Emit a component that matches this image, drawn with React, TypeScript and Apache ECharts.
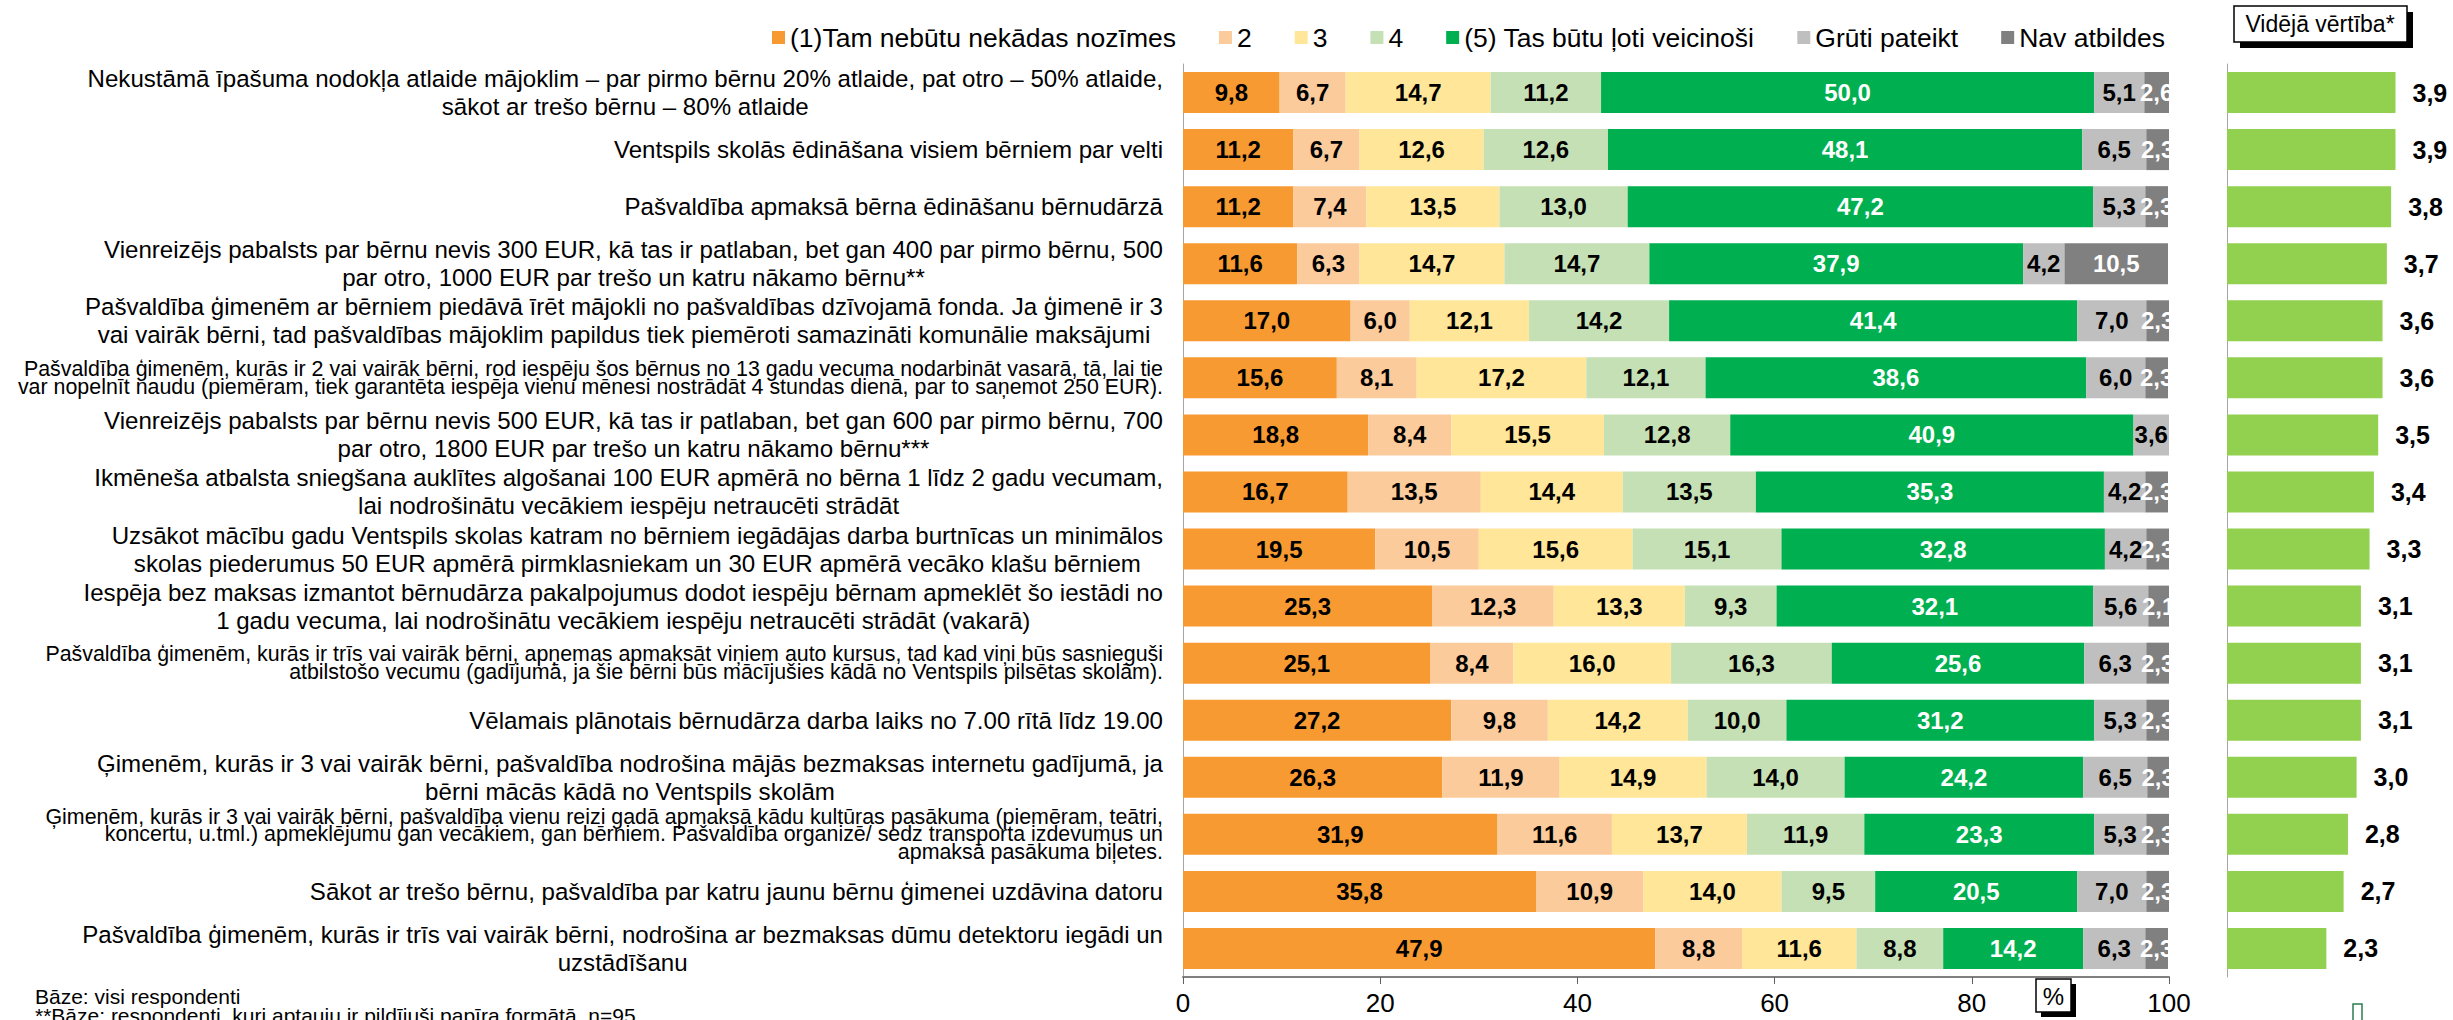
import React, { useEffect, useRef } from "react";
import * as echarts from "echarts";

const FONT = "'Liberation Sans', Arial, sans-serif";

const categories: string[] = [
  "Nekustāmā īpašuma nodokļa atlaide mājoklim – par pirmo bērnu 20% atlaide, pat otro – 50% atlaide,\nsākot ar trešo bērnu – 80% atlaide",
  "Ventspils skolās ēdināšana visiem bērniem par velti",
  "Pašvaldība apmaksā bērna ēdināšanu bērnudārzā",
  "Vienreizējs pabalsts par bērnu nevis 300 EUR, kā tas ir patlaban, bet gan 400 par pirmo bērnu, 500\npar otro, 1000 EUR par trešo un katru nākamo bērnu**",
  "Pašvaldība ģimenēm ar bērniem piedāvā īrēt mājokli no pašvaldības dzīvojamā fonda. Ja ģimenē ir 3\nvai vairāk bērni, tad pašvaldības mājoklim papildus tiek piemēroti samazināti komunālie maksājumi",
  "Pašvaldība ģimenēm, kurās ir 2 vai vairāk bērni, rod iespēju šos bērnus no 13 gadu vecuma nodarbināt vasarā, tā, lai tie\nvar nopelnīt naudu (piemēram, tiek garantēta iespēja vienu mēnesi nostrādāt 4 stundas dienā, par to saņemot 250 EUR).",
  "Vienreizējs pabalsts par bērnu nevis 500 EUR, kā tas ir patlaban, bet gan 600 par pirmo bērnu, 700\npar otro, 1800 EUR par trešo un katru nākamo bērnu***",
  "Ikmēneša atbalsta sniegšana auklītes algošanai 100 EUR apmērā no bērna 1 līdz 2 gadu vecumam,\nlai nodrošinātu vecākiem iespēju netraucēti strādāt",
  "Uzsākot mācību gadu Ventspils skolas katram no bērniem iegādājas darba burtnīcas un minimālos\nskolas piederumus 50 EUR apmērā pirmklasniekam un 30 EUR apmērā vecāko klašu bērniem",
  "Iespēja bez maksas izmantot bērnudārza pakalpojumus dodot iespēju bērnam apmeklēt šo iestādi no\n1 gadu vecuma, lai nodrošinātu vecākiem iespēju netraucēti strādāt (vakarā)",
  "Pašvaldība ģimenēm, kurās ir trīs vai vairāk bērni, apņemas apmaksāt viņiem auto kursus, tad kad viņi būs sasnieguši\natbilstošo vecumu (gadījumā, ja šie bērni būs mācījušies kādā no Ventspils pilsētas skolām).",
  "Vēlamais plānotais bērnudārza darba laiks no 7.00 rītā līdz 19.00",
  "Ģimenēm, kurās ir 3 vai vairāk bērni, pašvaldība nodrošina mājās bezmaksas internetu gadījumā, ja\nbērni mācās kādā no Ventspils skolām",
  "Ģimenēm, kurās ir 3 vai vairāk bērni, pašvaldība vienu reizi gadā apmaksā kādu kultūras pasākuma (piemēram, teātri,\nkoncertu, u.tml.) apmeklējumu gan vecākiem, gan bērniem. Pašvaldība organizē/ sedz transporta izdevumus un\napmaksā pasākuma biļetes.",
  "Sākot ar trešo bērnu, pašvaldība par katru jaunu bērnu ģimenei uzdāvina datoru",
  "Pašvaldība ģimenēm, kurās ir trīs vai vairāk bērni, nodrošina ar bezmaksas dūmu detektoru iegādi un\nuzstādīšanu",
];

// 'n' = normal label, 's' = smaller, tightly spaced labels
const labelStyles: string[] = ["n", "n", "n", "n", "n", "s", "n", "n", "n", "n", "s", "n", "n", "s", "n", "n"];

const seriesNames: string[] = [
  "(1)Tam nebūtu nekādas nozīmes",
  "2",
  "3",
  "4",
  "(5) Tas būtu ļoti veicinoši",
  "Grūti pateikt",
  "Nav atbildes",
];

const seriesColors: string[] = ["#F79A31", "#FBCB9B", "#FFE699", "#C5E0B4", "#00B050", "#BFBFBF", "#808080"];
const labelColors: string[] = ["#000", "#000", "#000", "#000", "#fff", "#000", "#fff"];

const v1: number[] = [9.8, 11.2, 11.2, 11.6, 17.0, 15.6, 18.8, 16.7, 19.5, 25.3, 25.1, 27.2, 26.3, 31.9, 35.8, 47.9];
const v2: number[] = [6.7, 6.7, 7.4, 6.3, 6.0, 8.1, 8.4, 13.5, 10.5, 12.3, 8.4, 9.8, 11.9, 11.6, 10.9, 8.8];
const v3: number[] = [14.7, 12.6, 13.5, 14.7, 12.1, 17.2, 15.5, 14.4, 15.6, 13.3, 16.0, 14.2, 14.9, 13.7, 14.0, 11.6];
const v4: number[] = [11.2, 12.6, 13.0, 14.7, 14.2, 12.1, 12.8, 13.5, 15.1, 9.3, 16.3, 10.0, 14.0, 11.9, 9.5, 8.8];
const v5: number[] = [50.0, 48.1, 47.2, 37.9, 41.4, 38.6, 40.9, 35.3, 32.8, 32.1, 25.6, 31.2, 24.2, 23.3, 20.5, 14.2];
const vHard: number[] = [5.1, 6.5, 5.3, 4.2, 7.0, 6.0, 3.6, 4.2, 4.2, 5.6, 6.3, 5.3, 6.5, 5.3, 7.0, 6.3];
const vNone: number[] = [2.6, 2.3, 2.3, 10.5, 2.3, 2.3, 0, 2.3, 2.3, 2.1, 2.3, 2.3, 2.3, 2.3, 2.3, 2.3];

const meanValues: number[] = [3.9, 3.9, 3.8, 3.7, 3.6, 3.6, 3.5, 3.4, 3.3, 3.1, 3.1, 3.1, 3.0, 2.8, 2.7, 2.3];

const xTicks = { min: 0, max: 100, interval: 20 };

const fmt = (v: number) => (v ? v.toFixed(1).replace(".", ",") : "");

export default function App() {
  const ref = useRef<HTMLDivElement>(null);

  useEffect(() => {
    if (!ref.current) return;
    const chart = echarts.init(ref.current, null, { renderer: "svg" });
    const stacks = [v1, v2, v3, v4, v5, vHard, vNone];

    const barSeries = stacks.map((data, i) => ({
      name: seriesNames[i],
      type: "bar",
      stack: "total",
      xAxisIndex: 0,
      yAxisIndex: 0,
      barWidth: 41,
      data,
      itemStyle: { color: seriesColors[i] },
      label: {
        show: true,
        position: "inside",
        color: labelColors[i],
        fontFamily: FONT,
        fontWeight: "bold",
        fontSize: 24,
        formatter: (p: any) => fmt(p.value),
      },
    }));

    const option: any = {
      animation: false,
      textStyle: { fontFamily: FONT },
      legend: {
        data: seriesNames,
        right: 283,
        top: 19,
        icon: "rect",
        itemWidth: 13,
        itemHeight: 13,
        itemGap: 43,
        textStyle: { fontSize: 26.5, color: "#000", fontFamily: FONT },
      },
      grid: [
        { left: 1183, right: 284, top: 64, bottom: 43, containLabel: false, outerBoundsMode: "none" },
        { left: 2227, right: 10, top: 64, bottom: 43, containLabel: false, outerBoundsMode: "none" },
      ],
      xAxis: [
        {
          type: "value",
          gridIndex: 0,
          min: xTicks.min,
          max: xTicks.max,
          interval: xTicks.interval,
          splitLine: { show: false },
          axisLine: { show: true, lineStyle: { color: "#808080", width: 2 } },
          axisTick: { show: true, length: 7, lineStyle: { color: "#606060" } },
          axisLabel: { fontSize: 26, color: "#000", margin: 13, fontFamily: FONT },
        },
        {
          type: "value",
          gridIndex: 1,
          min: 0,
          max: 5,
          show: false,
        },
      ],
      yAxis: [
        {
          type: "category",
          gridIndex: 0,
          inverse: true,
          data: categories,
          axisLine: { show: true, lineStyle: { color: "#A6A6A6", width: 1 } },
          axisTick: { show: false },
          axisLabel: {
            interval: 0,
            margin: 20,
            formatter: (value: string, idx: number) => {
              const st = labelStyles[idx] || "n";
              return value
                .split("\n")
                .map((l) => `{${st}|${l}}`)
                .join("\n");
            },
            rich: {
              n: { fontSize: 24.1, lineHeight: 28, align: "center", color: "#000", fontFamily: FONT },
              s: { fontSize: 21.4, lineHeight: 17.5, align: "right", color: "#000", fontFamily: FONT },
            },
          },
        },
        {
          type: "category",
          gridIndex: 1,
          inverse: true,
          data: categories,
          axisLine: { show: true, lineStyle: { color: "#A6A6A6", width: 1 } },
          axisTick: { show: false },
          axisLabel: { show: false },
        },
      ],
      series: [
        ...barSeries,
        {
          name: "Vidējā vērtība",
          type: "bar",
          xAxisIndex: 1,
          yAxisIndex: 1,
          barWidth: 41,
          data: meanValues,
          itemStyle: { color: "#92D050" },
          label: {
            show: true,
            position: "right",
            distance: 17,
            color: "#000",
            fontFamily: FONT,
            fontWeight: "bold",
            fontSize: 25,
            formatter: (p: any) => fmt(p.value),
          },
        },
      ],
      graphic: [
        // mask clipping labels beyond 100%
        { type: "rect", z: 100, shape: { x: 2170, y: 58, width: 54, height: 917 }, style: { fill: "#fff" } },
        // "Vidējā vērtība*" box
        { type: "rect", z: 101, shape: { x: 2240, y: 12, width: 173, height: 36 }, style: { fill: "#000" } },
        { type: "rect", z: 102, shape: { x: 2234, y: 6, width: 173, height: 36 }, style: { fill: "#fff", stroke: "#000", lineWidth: 1.5 } },
        {
          type: "text",
          z: 103,
          x: 2320,
          y: 24,
          style: { text: "Vidējā vērtība*", fontSize: 23, fontFamily: FONT, fill: "#000", align: "center", verticalAlign: "middle" },
        },
        // "%" box
        { type: "rect", z: 101, shape: { x: 2041, y: 984, width: 35, height: 33 }, style: { fill: "#000" } },
        { type: "rect", z: 102, shape: { x: 2036, y: 979, width: 35, height: 33 }, style: { fill: "#fff", stroke: "#000", lineWidth: 1.5 } },
        {
          type: "text",
          z: 103,
          x: 2053.5,
          y: 996,
          style: { text: "%", fontSize: 24, fontFamily: FONT, fill: "#000", align: "center", verticalAlign: "middle" },
        },
        // footnotes
        {
          type: "text",
          left: 35,
          top: 986,
          style: { text: "Bāze: visi respondenti", fontSize: 21, fontFamily: FONT, fill: "#000" },
        },
        {
          type: "text",
          left: 35,
          top: 1005,
          style: { text: "**Bāze: respondenti, kuri aptauju ir pildījuši papīra formātā, n=95", fontSize: 21, fontFamily: FONT, fill: "#000" },
        },
        // small cut-off element at bottom right
        { type: "rect", shape: { x: 2353, y: 1004, width: 9, height: 22 }, style: { fill: "#fff", stroke: "#2E7D4F", lineWidth: 1.5 } },
      ],
    };

    chart.setOption(option);
    return () => chart.dispose();
  }, []);

  return (
    <div
      ref={ref}
      style={{ position: "fixed", left: 0, top: 0, width: 2453, height: 1020, background: "#fff" }}
    />
  );
}
